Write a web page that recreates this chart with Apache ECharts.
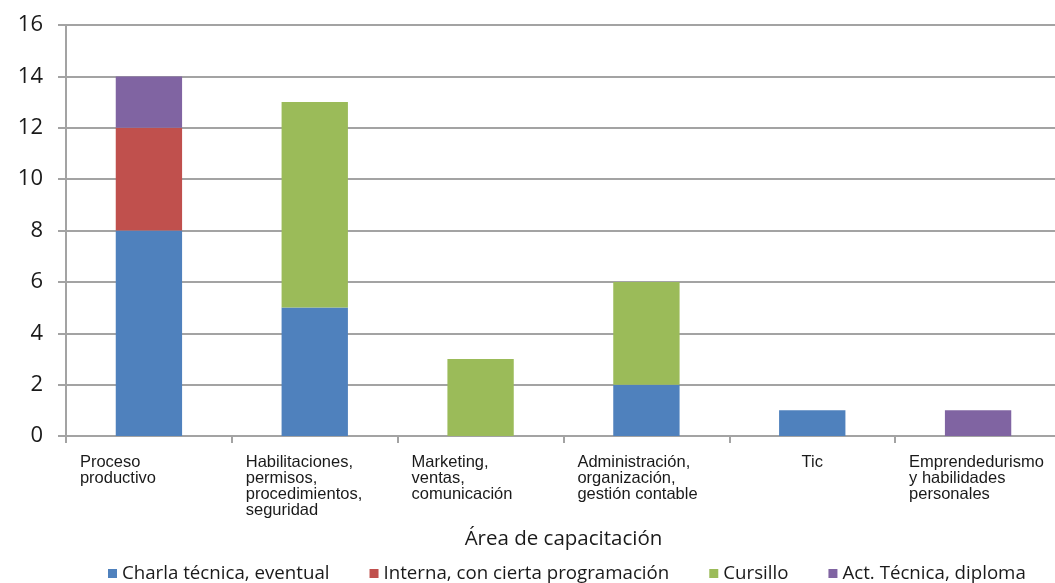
<!DOCTYPE html>
<html>
<head>
<meta charset="utf-8">
<script src="https://cdn.jsdelivr.net/npm/echarts@6/dist/echarts.min.js"></script>
<style>
  html, body { margin: 0; padding: 0; background: #ffffff; overflow: hidden; }
  /* the plot runs a few pixels past the right edge of the window */
  #chart { width: 1061px; height: 583px; }
</style>
</head>
<body>
<div id="chart"></div>
<script>
// Training areas (x axis) and counts per training type
const categories = [
  'Proceso\nproductivo',
  'Habilitaciones,\npermisos,\nprocedimientos,\nseguridad',
  'Marketing,\nventas,\ncomunicación',
  'Administración,\norganización,\ngestión contable',
  'Tic',
  'Emprendedurismo\ny habilidades\npersonales'
];
const charlaTecnica = [8, 5, 0, 2, 1, 0];
const interna       = [4, 0, 0, 0, 0, 0];
const cursillo      = [0, 8, 3, 4, 0, 0];
const actTecnica    = [2, 0, 0, 0, 0, 1];

const seriesNames = [
  'Charla técnica, eventual',
  'Interna, con cierta programación',
  'Cursillo',
  'Act. Técnica, diploma'
];
const seriesColors = ['#4f81bd', '#c0504d', '#9bbb59', '#8064a2'];
const seriesData = [charlaTecnica, interna, cursillo, actTecnica];

const chart = echarts.init(document.getElementById('chart'), null, { renderer: 'canvas' });

const gray = '#a3a3a3';

chart.setOption({
  backgroundColor: '#ffffff',
  animation: false,
  color: seriesColors,
  grid: { left: 66, right: 0, top: 25, height: 411, containLabel: false },
  legend: {
    left: 103,
    top: 559,
    icon: 'rect',
    itemWidth: 9,
    itemHeight: 9,
    itemGap: 40,
    textStyle: { fontFamily: 'Open Sans', fontSize: 18.7, color: '#1a1a1a' },
    data: seriesNames
  },
  xAxis: {
    type: 'category',
    data: categories,
    name: 'Área de capacitación',
    nameLocation: 'middle',
    nameGap: 93,
    nameTextStyle: { fontFamily: 'Open Sans', fontSize: 20.5, color: '#1a1a1a' },
    axisLine: { lineStyle: { color: gray, width: 2 } },
    axisTick: { show: true, length: 7, alignWithLabel: false, lineStyle: { color: gray, width: 2 } },
    axisLabel: {
      interval: 0,
      margin: 18,
      formatter: function (v) {
        // multi-line labels are left-aligned in a box, single-line ones centred
        const lines = v.split('\n');
        if (lines.length === 1) return '{c|' + v + '}';
        return lines.map(function (s) { return '{a|' + s + '}'; }).join('\n');
      },
      rich: {
        a: {
          width: 138,
          align: 'left',
          fontFamily: 'Liberation Sans',
          fontSize: 16.5,
          lineHeight: 16,
          color: '#1a1a1a'
        },
        c: {
          align: 'center',
          fontFamily: 'Liberation Sans',
          fontSize: 16.5,
          lineHeight: 16,
          color: '#1a1a1a'
        }
      }
    }
  },
  yAxis: {
    type: 'value',
    min: 0,
    max: 16,
    interval: 2,
    axisLine: { show: true, lineStyle: { color: gray, width: 2 } },
    axisTick: { show: true, length: 8, lineStyle: { color: gray, width: 2 } },
    splitLine: { show: true, lineStyle: { color: gray, width: 2 } },
    axisLabel: {
      margin: 23,
      fontFamily: 'Open Sans',
      fontSize: 22,
      color: '#1a1a1a'
    }
  },
  series: seriesNames.map(function (name, i) {
    return {
      name: name,
      type: 'bar',
      stack: 'total',
      barWidth: '40%',
      data: seriesData[i],
      itemStyle: { color: seriesColors[i] }
    };
  })
});
</script>
</body>
</html>
